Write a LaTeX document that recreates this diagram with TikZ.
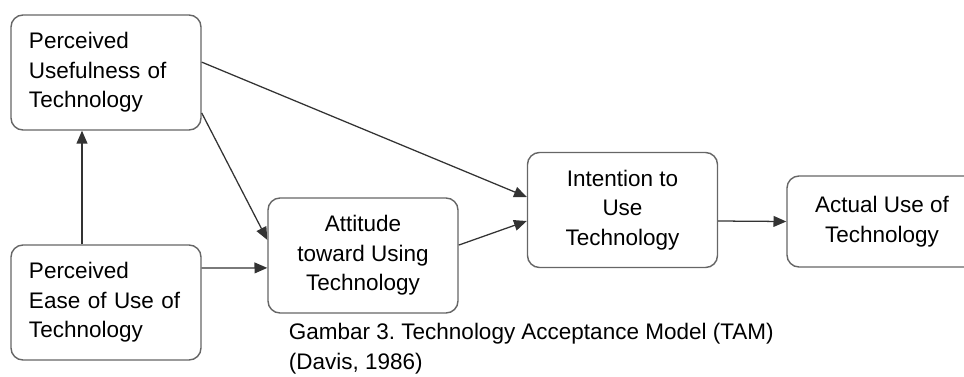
\documentclass[tikz,border=0pt]{standalone}
\usepackage{fontspec}
\setmainfont{Liberation Sans}
\usetikzlibrary{shapes.geometric, arrows.meta, positioning}
\frenchspacing

\begin{document}
\begin{tikzpicture}
			\tikzstyle{factor}=[
			rectangle, rounded corners=0.3cm, draw=black!60, line width=1pt,
			minimum width=4.75cm, minimum height=2.875cm,
			font=\fontsize{16}{21}\selectfont, align=center
			]
			\tikzstyle{link}=[
			draw=black!80, line width=0.9pt, -{Triangle[length=0.32cm, width=0.27cm]}
			]
			
			\useasboundingbox (0,0) rectangle (24.1,-9.4);
			
			\node[factor, align=left, text width=3.85cm] (pu) at (2.65,-1.8125) {Perceived\\Usefulness of\\Technology};
			\node[factor, align=left, text width=3.85cm] (peou) at (2.65,-7.5625) {Perceived\\Ease of Use of\\Technology};
			\node[factor] (att) at (9.075,-6.3875) {Attitude\\toward Using\\Technology};
			\node[factor] (bi) at (15.5625,-5.25) {Intention to\\Use\\Technology};
			\node[factor, minimum height=2.275cm] (use) at (22.05,-5.5375) {Actual Use of\\Technology};
			\node[anchor=west, align=left, font=\fontsize{16}{21}\selectfont] (cap) at (7.1,-8.72) {Gambar 3. Technology Acceptance Model (TAM)\\(Davis, 1986)};
			
			\draw[link] ([xshift=-0.6cm]peou.north) -- ([xshift=-0.6cm]pu.south);
			\draw[link] ([yshift=-1.01cm]pu.east) -- ([yshift=0.39cm]att.west);
			\draw[link] ([yshift=0.26cm]pu.east) -- ([yshift=0.325cm]bi.west);
			\draw[link] ([yshift=0.86cm]peou.east) -- ([yshift=-0.31cm]att.west);
			\draw[link] ([yshift=0.26cm]att.east) -- ([yshift=-0.275cm]bi.west);
			\draw[link] ([yshift=-0.275cm]bi.east) -- (use.west);
		\end{tikzpicture}
\end{document}
